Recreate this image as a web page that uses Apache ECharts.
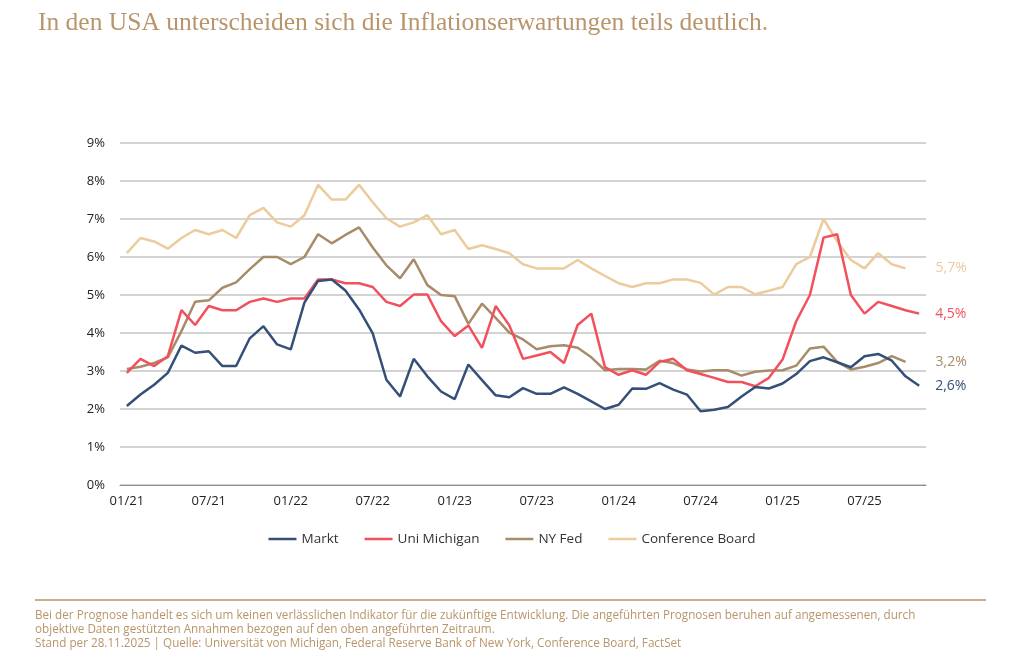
<!DOCTYPE html>
<html>
<head>
<meta charset="utf-8">
<script src="https://cdn.jsdelivr.net/npm/echarts@6/dist/echarts.min.js"></script>
<style>
html,body{margin:0;padding:0;background:#fff;}
#chart{width:1024px;height:655px;}
</style>
</head>
<body>
<div id="chart"></div>
<script>
// Monthly categories 01/21 .. 11/25
const months = [];
for (let y = 21; y <= 25; y++) {
  for (let m = 1; m <= 12; m++) {
    if (y === 25 && m > 11) break;
    months.push((m < 10 ? '0' + m : '' + m) + '/' + y);
  }
}
const yTicks = [0, 1, 2, 3, 4, 5, 6, 7, 8, 9];

const markt = [2.08,2.38,2.64,2.95,3.67,3.48,3.52,3.13,3.13,3.86,4.18,3.70,3.57,4.80,5.37,
  5.41,5.12,4.62,3.99,2.77,2.33,3.32,2.86,2.46,2.26,3.17,2.76,2.36,2.31,
  2.55,2.40,2.40,2.57,2.40,2.20,2.00,2.11,2.54,2.53,2.68,2.51,2.38,1.94,1.98,
  2.05,2.33,2.58,2.54,2.67,2.92,3.26,3.36,3.23,3.10,3.39,3.45,3.27,2.86,2.61];
const uniMichigan = [2.95,3.32,3.13,3.39,4.60,4.21,4.71,4.60,4.60,4.82,4.91,4.82,4.91,4.91,5.41,
  5.41,5.31,5.31,5.21,4.82,4.71,5.01,5.01,4.31,3.92,4.20,3.61,4.71,4.20,
  3.32,3.41,3.50,3.21,4.21,4.51,3.10,2.90,3.02,2.90,3.24,3.32,3.02,2.92,2.82,
  2.71,2.71,2.60,2.82,3.30,4.31,5.00,6.51,6.60,5.00,4.51,4.82,4.71,4.60,4.51];
const nyFed = [3.05,3.11,3.21,3.36,4.05,4.82,4.86,5.19,5.33,5.68,6.00,6.00,5.81,6.00,6.60,
  6.36,6.58,6.78,6.25,5.78,5.44,5.94,5.26,5.00,4.97,4.24,4.77,4.40,4.01,
  3.83,3.57,3.65,3.68,3.61,3.36,3.02,3.05,3.05,3.04,3.27,3.21,3.04,2.99,3.02,
  3.02,2.88,2.98,3.01,3.02,3.14,3.59,3.64,3.24,3.04,3.11,3.21,3.39,3.24];
const conferenceBoard = [6.10,6.50,6.41,6.22,6.50,6.71,6.60,6.71,6.50,7.10,7.29,6.91,6.80,7.10,7.90,
  7.51,7.51,7.90,7.44,7.02,6.80,6.91,7.10,6.60,6.71,6.21,6.31,6.21,6.10,
  5.81,5.70,5.70,5.70,5.92,5.70,5.50,5.31,5.21,5.31,5.31,5.41,5.41,5.32,5.01,
  5.21,5.21,5.02,5.11,5.21,5.81,6.00,7.00,6.41,5.92,5.70,6.10,5.81,5.70];

const seriesNames = ['Markt', 'Uni Michigan', 'NY Fed', 'Conference Board'];
const colors = ['#344f78', '#f1505c', '#a88c69', '#eccb9c'];
const endOffsets = [8, 8, 22, 22];
const dataSets = [markt, uniMichigan, nyFed, conferenceBoard];

const fmt = v => v.toFixed(1).replace('.', ',') + '%';

const chart = echarts.init(document.getElementById('chart'));
const option = {
  animation: false,
  backgroundColor: '#ffffff',
  title: {
    text: 'In den USA unterscheiden sich die Inflationserwartungen teils deutlich.',
    left: 33, top: 5,
    textStyle: { fontFamily: 'Liberation Serif', fontWeight: 'normal', fontSize: 25.5, color: '#b8956a' }
  },
  grid: { left: 120, right: 98, top: 143, bottom: 170 },
  legend: {
    bottom: 104, left: 'center',
    icon: 'rect', itemWidth: 28, itemHeight: 2.5, itemGap: 26,
    textStyle: { fontFamily: 'Open Sans', fontSize: 13.5, color: '#333' },
    data: seriesNames
  },
  xAxis: {
    type: 'category',
    data: months,
    boundaryGap: true,
    axisLine: { lineStyle: { color: '#8c8c8c', width: 1.2 } },
    axisTick: { interval: 5, length: 5, lineStyle: { color: '#8c8c8c' } },
    axisLabel: { interval: 5, fontFamily: 'Open Sans', fontSize: 13, color: '#222', margin: 10 }
  },
  yAxis: {
    type: 'value', min: yTicks[0], max: yTicks[yTicks.length - 1], interval: 1,
    axisLine: { show: false }, axisTick: { show: false },
    axisLabel: { formatter: '{value}%', fontFamily: 'Open Sans', fontSize: 13, color: '#222', margin: 15 },
    splitLine: { lineStyle: { color: '#c4c4c4', width: 1.5 } }
  },
  series: dataSets.map((d, i) => ({
    name: seriesNames[i],
    type: 'line',
    data: d,
    showSymbol: false,
    symbol: 'none',
    lineStyle: { color: colors[i], width: 2.5 },
    itemStyle: { color: colors[i] },
    z: 10 - i,
    endLabel: {
      show: true,
      formatter: p => fmt(p.value),
      offset: [endOffsets[i], 0],
      fontFamily: 'Open Sans', fontSize: 14, color: colors[i]
    }
  })),
  graphic: [
    { type: 'line', shape: { x1: 35, y1: 600, x2: 986, y2: 600 }, style: { stroke: '#c9ac88', lineWidth: 2 } },
    { type: 'text', left: 35, top: 610, style: { text: 'Bei der Prognose handelt es sich um keinen verlässlichen Indikator für die zukünftige Entwicklung. Die angeführten Prognosen beruhen auf angemessenen, durch', fontFamily: 'Open Sans', fontSize: 11.7, fill: '#b8956a' } },
    { type: 'text', left: 35, top: 624, style: { text: 'objektive Daten gestützten Annahmen bezogen auf den oben angeführten Zeitraum.', fontFamily: 'Open Sans', fontSize: 11.7, fill: '#b8956a' } },
    { type: 'text', left: 35, top: 638, style: { text: 'Stand per 28.11.2025 | Quelle: Universität von Michigan, Federal Reserve Bank of New York, Conference Board, FactSet', fontFamily: 'Open Sans', fontSize: 11.7, fill: '#b8956a' } }
  ]
};
chart.setOption(option);
</script>
</body>
</html>
